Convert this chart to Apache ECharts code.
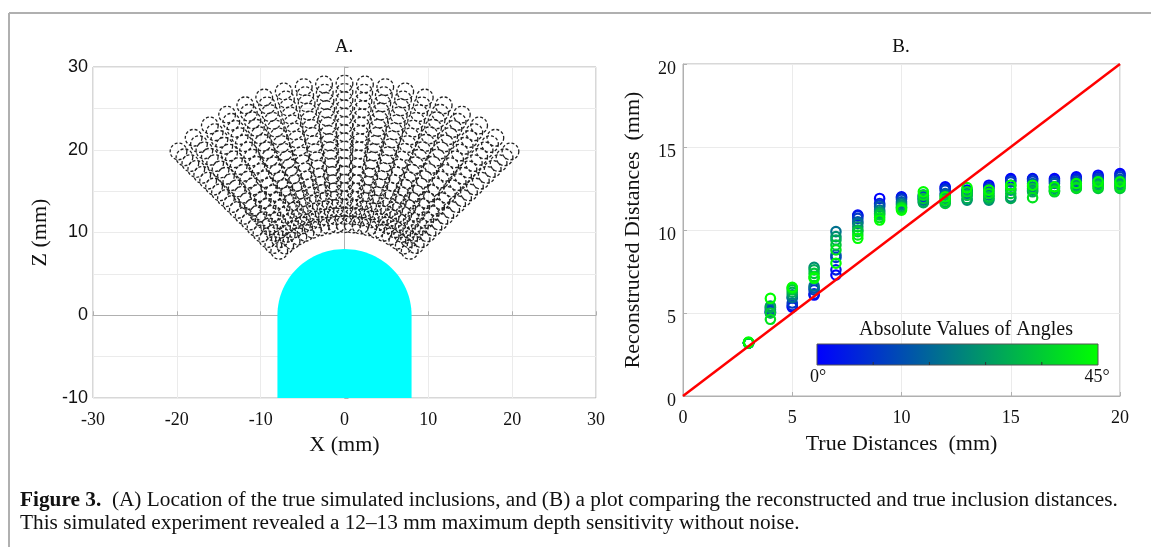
<!DOCTYPE html>
<html><head><meta charset="utf-8">
<script src="https://cdn.jsdelivr.net/npm/echarts@6/dist/echarts.min.js"></script>
<style>html,body{margin:0;padding:0;background:#fff}#c{width:1151px;height:547px}</style>
</head><body><div id="c"></div>
<script>
// ---------- Panel A: simulated geometry ----------
const A_X_TICKS = [-30, -20, -10, 0, 10, 20, 30];
const A_Z_TICKS = [-10, 0, 10, 20, 30];
const RAY_ANGLES_DEG = [-45, -40, -35, -30, -25, -20, -15, -10, -5, 0, 5, 10, 15, 20, 25, 30, 35, 40, 45];
const INCLUSION_DEPTHS = [3, 4, 5, 6, 7, 8, 9, 10, 11, 12, 13, 14, 15, 16, 17, 18, 19, 20];
const DOME_RADIUS = 8;
const DOME_BASE = -10;
const INCLUSION_RADIUS = 1.0;

// ---------- Panel B: reconstructed vs true ----------
const B_TICKS = [0, 5, 10, 15, 20];
const TRUE_DISTANCES = [3, 4, 5, 6, 7, 8, 9, 10, 11, 12, 13, 14, 15, 16, 17, 18, 19, 20];
const ABS_ANGLES = [0, 5, 10, 15, 20, 25, 30, 35, 40, 45];
const RECON_ANG0  = [3.2, 5.02, 5.35, 6.08, 7.29, 10.9, 11.9, 12.0, 12.1, 12.6, 12.4, 12.7, 13.1, 13.1, 13.1, 13.2, 13.3, 13.4];
const RECON_ANG5  = [3.2, 5.05, 5.45, 6.15, 7.6, 10.85, 11.6, 11.95, 12.0, 12.5, 12.35, 12.6, 13.0, 13.05, 13.0, 13.1, 13.2, 13.3];
const RECON_ANG10 = [3.2, 5.1, 5.6, 6.39, 8.35, 10.7, 11.5, 11.85, 11.95, 12.4, 12.3, 12.5, 12.9, 12.95, 12.9, 13.0, 13.1, 13.2];
const RECON_ANG15 = [3.2, 5.2, 5.9, 6.5, 8.5, 10.5, 11.4, 11.7, 11.85, 12.2, 12.2, 12.3, 12.7, 12.8, 12.8, 12.9, 13.0, 13.05];
const RECON_ANG20 = [3.2, 5.3, 5.95, 6.63, 9.9, 10.4, 11.2, 11.6, 11.8, 12.1, 12.1, 12.1, 12.4, 12.6, 12.6, 12.8, 12.9, 12.95];
const RECON_ANG25 = [3.2, 5.42, 6.1, 7.75, 9.6, 10.2, 11.1, 11.5, 11.7, 11.9, 11.8, 11.8, 12.0, 12.4, 12.5, 12.7, 12.8, 12.8];
const RECON_ANG30 = [3.2, 5.35, 6.25, 7.6, 9.4, 10.0, 11.0, 11.4, 11.65, 11.7, 11.9, 11.9, 11.9, 12.3, 12.4, 12.6, 12.7, 12.7];
const RECON_ANG35 = [3.2, 5.0, 6.4, 7.39, 9.1, 9.9, 10.9, 11.35, 11.9, 11.6, 12.1, 12.0, 12.2, 12.5, 12.3, 12.5, 12.5, 12.5];
const RECON_ANG40 = [3.2, 4.62, 6.5, 7.2, 8.8, 9.7, 10.75, 11.3, 12.1, 11.8, 12.3, 12.2, 12.5, 11.95, 12.35, 12.55, 12.6, 12.6];
const RECON_ANG45 = [3.25, 5.88, 6.55, 7.09, 8.0, 9.5, 10.6, 11.2, 12.3, 12.0, 12.55, 12.4, 12.7, 12.7, 12.6, 12.8, 12.9, 12.9];
const IDENTITY_LINE = [0, 20];
const COLORBAR_RANGE = [0, 45];
const COLORBAR_LABELS = ['0°', '45°'];

// ---------- build series data ----------
const inclusionData = [];
RAY_ANGLES_DEG.forEach(a => {
  const t = a * Math.PI / 180;
  INCLUSION_DEPTHS.forEach(d => {
    const r = DOME_RADIUS + d;
    inclusionData.push([r * Math.sin(t), r * Math.cos(t)]);
  });
});
const reconRows = [RECON_ANG0, RECON_ANG5, RECON_ANG10, RECON_ANG15, RECON_ANG20, RECON_ANG25, RECON_ANG30, RECON_ANG35, RECON_ANG40, RECON_ANG45];
const reconData = [];
ABS_ANGLES.forEach((ang, i) => {
  TRUE_DISTANCES.forEach((d, j) => reconData.push([d, reconRows[i][j], ang]));
});

const SERIF = '"Liberation Serif", "Times New Roman", serif';
const SANS = '"Liberation Sans", Arial, sans-serif';
const BOX = '#b0b0b0';
const GRIDC = '#ebebeb';

const chart = echarts.init(document.getElementById('c'), null, {renderer: 'canvas'});

function axisCommon(font, margin) {
  return {
    axisLine: {show: true, lineStyle: {color: BOX, width: 1}},
    axisTick: {show: true, inside: true, length: 4, lineStyle: {color: BOX}},
    splitLine: {show: true, lineStyle: {color: GRIDC, width: 1}},
    axisLabel: {color: '#111', fontFamily: font, fontSize: 18, margin: margin},
    nameTextStyle: {color: '#111', fontFamily: SERIF, fontSize: 22}
  };
}

const option = {
  animation: false,
  backgroundColor: '#fff',
  grid: [
    {left: 93, top: 67, width: 503, height: 331, show: true, borderColor: BOX, borderWidth: 1, backgroundColor: 'transparent'},
    {left: 683, top: 64, width: 437, height: 332, show: true, borderColor: BOX, borderWidth: 1, backgroundColor: 'transparent'}
  ],
  xAxis: [
    Object.assign(axisCommon(SERIF, 13), {
      gridIndex: 0, type: 'value', min: A_X_TICKS[0], max: A_X_TICKS[A_X_TICKS.length - 1],
      interval: A_X_TICKS[1] - A_X_TICKS[0],
      name: 'X (mm)', nameLocation: 'middle', nameGap: 35,
    }),
    Object.assign(axisCommon(SERIF, 13), {
      gridIndex: 1, type: 'value', min: B_TICKS[0], max: B_TICKS[B_TICKS.length - 1],
      interval: B_TICKS[1] - B_TICKS[0],
      name: 'True Distances  (mm)', nameLocation: 'middle', nameGap: 37,
    })
  ],
  yAxis: [
    Object.assign(axisCommon(SANS, 5), {
      gridIndex: 0, type: 'value', min: A_Z_TICKS[0], max: A_Z_TICKS[A_Z_TICKS.length - 1],
      interval: (A_Z_TICKS[1] - A_Z_TICKS[0]) / 2,
      name: 'Z (mm)', nameLocation: 'middle', nameGap: 42,
    }),
    Object.assign(axisCommon(SERIF, 7), {
      gridIndex: 1, type: 'value', min: B_TICKS[0], max: B_TICKS[B_TICKS.length - 1],
      interval: B_TICKS[1] - B_TICKS[0],
      name: 'Reconstructed Distances  (mm)', nameLocation: 'middle', nameGap: 39,
    })
  ],
  visualMap: [{
    type: 'continuous', show: false, seriesIndex: 2, dimension: 2,
    min: COLORBAR_RANGE[0], max: COLORBAR_RANGE[1],
    inRange: {color: ['#0000ff', '#00ff00']}
  }],
  series: [
    {
      type: 'custom', xAxisIndex: 0, yAxisIndex: 0, z: 1, silent: true,
      data: [[0, 0]],
      renderItem: function (params, api) {
        const pts = [];
        for (let k = 0; k <= 60; k++) {
          const t = Math.PI * k / 60;
          pts.push(api.coord([DOME_RADIUS * Math.cos(t), DOME_RADIUS * Math.sin(t)]));
        }
        pts.push(api.coord([-DOME_RADIUS, DOME_BASE]));
        pts.push(api.coord([DOME_RADIUS, DOME_BASE]));
        return {type: 'polygon', shape: {points: pts}, style: {fill: '#00ffff', stroke: null}};
      }
    },
    {
      type: 'custom', xAxisIndex: 0, yAxisIndex: 0, z: 2, silent: true,
      data: inclusionData,
      encode: {x: 0, y: 1},
      renderItem: function (params, api) {
        const p = api.coord([api.value(0), api.value(1)]);
        const r = api.size([INCLUSION_RADIUS, INCLUSION_RADIUS]);
        return {type: 'circle', shape: {cx: p[0], cy: p[1], r: (r[0] + r[1]) / 2},
          style: {fill: 'none', stroke: '#222', lineWidth: 1.3, lineDash: [3, 2]}};
      }
    },
    {
      type: 'custom', xAxisIndex: 1, yAxisIndex: 1, z: 2, silent: true,
      data: reconData,
      encode: {x: 0, y: 1},
      renderItem: function (params, api) {
        const p = api.coord([api.value(0), api.value(1)]);
        return {type: 'circle', shape: {cx: p[0], cy: p[1], r: 4.7},
          style: {fill: 'none', stroke: api.visual('color'), lineWidth: 2.2}};
      }
    },
    {
      type: 'line', xAxisIndex: 1, yAxisIndex: 1, z: 3, silent: true,
      data: IDENTITY_LINE.map(v => [v, v]),
      symbol: 'none',
      lineStyle: {color: '#ff0000', width: 2.5}
    }
  ],
  graphic: [
    {type: 'line', shape: {x1: 9, y1: 13, x2: 1151, y2: 13}, style: {stroke: '#b0b0b0', lineWidth: 2}},
    {type: 'line', shape: {x1: 9, y1: 13, x2: 9, y2: 547}, style: {stroke: '#b0b0b0', lineWidth: 2}},
    {type: 'text', x: 344, y: 47, style: {text: 'A.', font: '19px ' + SERIF, fill: '#111', textAlign: 'center', textVerticalAlign: 'middle'}},
    {type: 'text', x: 901, y: 47, style: {text: 'B.', font: '19px ' + SERIF, fill: '#111', textAlign: 'center', textVerticalAlign: 'middle'}},
    // colorbar
    {type: 'text', x: 966, y: 330, z: 10, style: {text: 'Absolute Values of Angles', font: '20px ' + SERIF, fill: '#111', textAlign: 'center', textVerticalAlign: 'middle'}},
    {type: 'rect', z: 10, shape: {x: 817, y: 344, width: 281, height: 21},
      style: {fill: new echarts.graphic.LinearGradient(0, 0, 1, 0, [{offset: 0, color: '#0000ff'}, {offset: 1, color: '#00ff00'}]), stroke: '#555', lineWidth: 1}},
    {type: 'line', z: 11, shape: {x1: 873.2, y1: 365, x2: 873.2, y2: 362}, style: {stroke: '#333', lineWidth: 1}},
    {type: 'line', z: 11, shape: {x1: 929.4, y1: 365, x2: 929.4, y2: 362}, style: {stroke: '#333', lineWidth: 1}},
    {type: 'line', z: 11, shape: {x1: 985.6, y1: 365, x2: 985.6, y2: 362}, style: {stroke: '#333', lineWidth: 1}},
    {type: 'line', z: 11, shape: {x1: 1041.8, y1: 365, x2: 1041.8, y2: 362}, style: {stroke: '#333', lineWidth: 1}},
    {type: 'text', x: 818, y: 377, z: 10, style: {text: COLORBAR_LABELS[0], font: '18px ' + SERIF, fill: '#111', textAlign: 'center', textVerticalAlign: 'middle'}},
    {type: 'text', x: 1097, y: 377, z: 10, style: {text: COLORBAR_LABELS[1], font: '18px ' + SERIF, fill: '#111', textAlign: 'center', textVerticalAlign: 'middle'}},
    // caption
    {type: 'text', x: 20, y: 500, style: {
      text: '{b|Figure 3.}  (A) Location of the true simulated inclusions, and (B) a plot comparing the reconstructed and true inclusion distances.',
      font: '21.3px ' + SERIF, fill: '#111', textVerticalAlign: 'middle',
      rich: {b: {fontFamily: SERIF, fontSize: 21.3, fontWeight: 'bold', fill: '#111'}}}},
    {type: 'text', x: 20, y: 523, style: {
      text: 'This simulated experiment revealed a 12–13 mm maximum depth sensitivity without noise.',
      font: '21.3px ' + SERIF, fill: '#111', textVerticalAlign: 'middle'}}
  ]
};
// show every other z label (labels at 10 mm, grid at 5 mm)
option.yAxis[0].axisLabel.interval = 1;
option.yAxis[0].axisLabel.formatter = function (v) { return A_Z_TICKS.indexOf(v) >= 0 ? String(v) : ''; };
// panel B y labels sit slightly below their ticks in the reference
option.yAxis[1].axisLabel.formatter = function (v) { return '\n' + v; };
option.yAxis[1].axisLabel.lineHeight = 11;
chart.setOption(option);
</script>
</body></html>
